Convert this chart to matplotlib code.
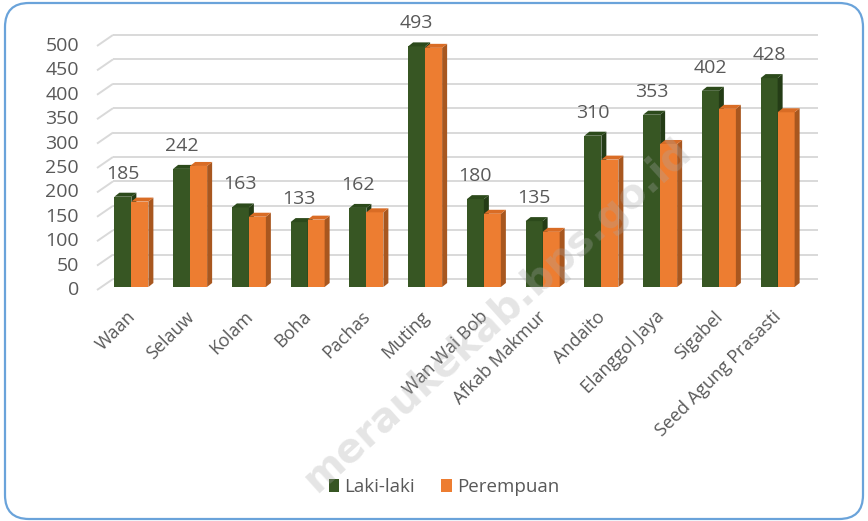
import matplotlib
matplotlib.use("Agg")
import matplotlib.pyplot as plt
from matplotlib.patches import Polygon, Patch, FancyBboxPatch
from matplotlib.transforms import ScaledTranslation

plt.rcParams['font.family'] = ['Open Sans', 'DejaVu Sans']

categories = ["Waan", "Selauw", "Kolam", "Boha", "Pachas", "Muting", "Wan Wai Bob",
              "Afkab Makmur", "Andaito", "Elanggol Jaya", "Sigabel", "Seed Agung Prasasti"]
laki = [185, 242, 163, 133, 162, 493, 180, 135, 310, 353, 402, 428]
perempuan = [175, 248, 144, 138, 153, 490, 150, 113, 261, 293, 365, 358]
yticks = [0, 50, 100, 150, 200, 250, 300, 350, 400, 450, 500]
series_names = ["Laki-laki", "Perempuan"]

GREEN, GREEN_SIDE, GREEN_TOP = "#375623", "#243c16", "#2c4a1b"
ORANGE, ORANGE_SIDE, ORANGE_TOP = "#ED7D31", "#a8571f", "#d96c25"
TXT = "#595959"
GRID = "#d9d9d9"

W, H = 868, 521
fig = plt.figure(figsize=(W / 100, H / 100), dpi=100)
fig.patch.set_facecolor("white")

ax_l, ax_r, ax_b, ax_t = 102, 807, 287, 33.2   # pixel box of axes
ax = fig.add_axes([ax_l / W, (H - ax_b) / H, (ax_r - ax_l) / W, (ax_b - ax_t) / H])
ymax = 520
ax.set_xlim(-0.5, len(categories) - 0.5)
ax.set_ylim(0, ymax)
ax.axis("off")

ppu_y = (ax_b - ax_t) / ymax
ppu_x = (ax_r - ax_l) / len(categories)

# gridlines (3D floor style)
back_dy = 8 / ppu_y
front_dy = -3 / ppu_y
x_front = (97 - ax_l) / (ax_r - ax_l)
x_back = (113 - ax_l) / (ax_r - ax_l)
x_end = (818 - ax_l) / (ax_r - ax_l)
tr = ax.get_yaxis_transform()
for v in yticks:
    ax.plot([x_back, x_end], [v + back_dy, v + back_dy], color=GRID, lw=1.4,
            transform=tr, clip_on=False, zorder=0, solid_capstyle="butt")
    ax.plot([x_front, x_back], [v + front_dy, v + back_dy], color=GRID, lw=1.4,
            transform=tr, clip_on=False, zorder=0, solid_capstyle="butt")
    ax.text((79 - ax_l) / (ax_r - ax_l), v + front_dy, str(v), transform=tr,
            ha="right", va="center", fontsize=14, color=TXT)

# 3D bars
bw = 17 / ppu_x
ddx = 5 / ppu_x
ddy = 4 / ppu_y
z = 2
for i in range(len(categories)):
    for j, (vals, fc, sc, tc) in enumerate([(laki, GREEN, GREEN_SIDE, GREEN_TOP),
                                             (perempuan, ORANGE, ORANGE_SIDE, ORANGE_TOP)]):
        h = vals[i]
        xl = i - bw + j * bw
        xr = xl + bw
        ax.bar(xl, h, width=bw, align="edge", color=fc, zorder=z, linewidth=0)
        ax.add_patch(Polygon([(xr, 0), (xr + ddx, ddy), (xr + ddx, h + ddy), (xr, h)],
                             closed=True, facecolor=sc, edgecolor="none", zorder=z))
        ax.add_patch(Polygon([(xl, h), (xl + ddx, h + ddy), (xr + ddx, h + ddy), (xr, h)],
                             closed=True, facecolor=tc, edgecolor="none", zorder=z))
        z += 1

# data labels (Laki-laki)
for i, v in enumerate(laki):
    ax.annotate(str(v), (i - bw / 2, v), xytext=(0, 23 * 0.72), textcoords="offset points",
                ha="center", va="center", fontsize=14, color=TXT, zorder=50)

# category labels
lab_off = ScaledTranslation(0, -27 / 100, fig.dpi_scale_trans)
for i, c in enumerate(categories):
    ax.text(i + 0.02, 0, c, transform=ax.transData + lab_off, rotation=45,
            rotation_mode="anchor", ha="right", va="center", fontsize=13, color=TXT)

# legend
handles = [Patch(facecolor=GREEN, edgecolor="none"), Patch(facecolor=ORANGE, edgecolor="none")]
fig.legend(handles, series_names, loc="center", bbox_to_anchor=(444 / W, 1 - 487 / H), ncol=2,
           frameon=False, fontsize=13.5, handlelength=0.55, handleheight=0.75, handletextpad=0.3,
           columnspacing=1.4, labelcolor=TXT)

# watermark
fig.text(686 / W, 1 - 146 / H, "meraukekab.bps.go.id", rotation=42,
         rotation_mode="anchor", ha="right", va="center", fontsize=29, fontweight="bold",
         color="#a8a8a8", alpha=0.3, family="DejaVu Sans", zorder=100)

# rounded border
fig.patches.append(FancyBboxPatch((5, 2), 858, 516, boxstyle="round,pad=0,rounding_size=24",
                                  transform=None, facecolor="none", edgecolor="#6aa3da",
                                  linewidth=1.6))

fig.savefig("out.png", dpi=100)
